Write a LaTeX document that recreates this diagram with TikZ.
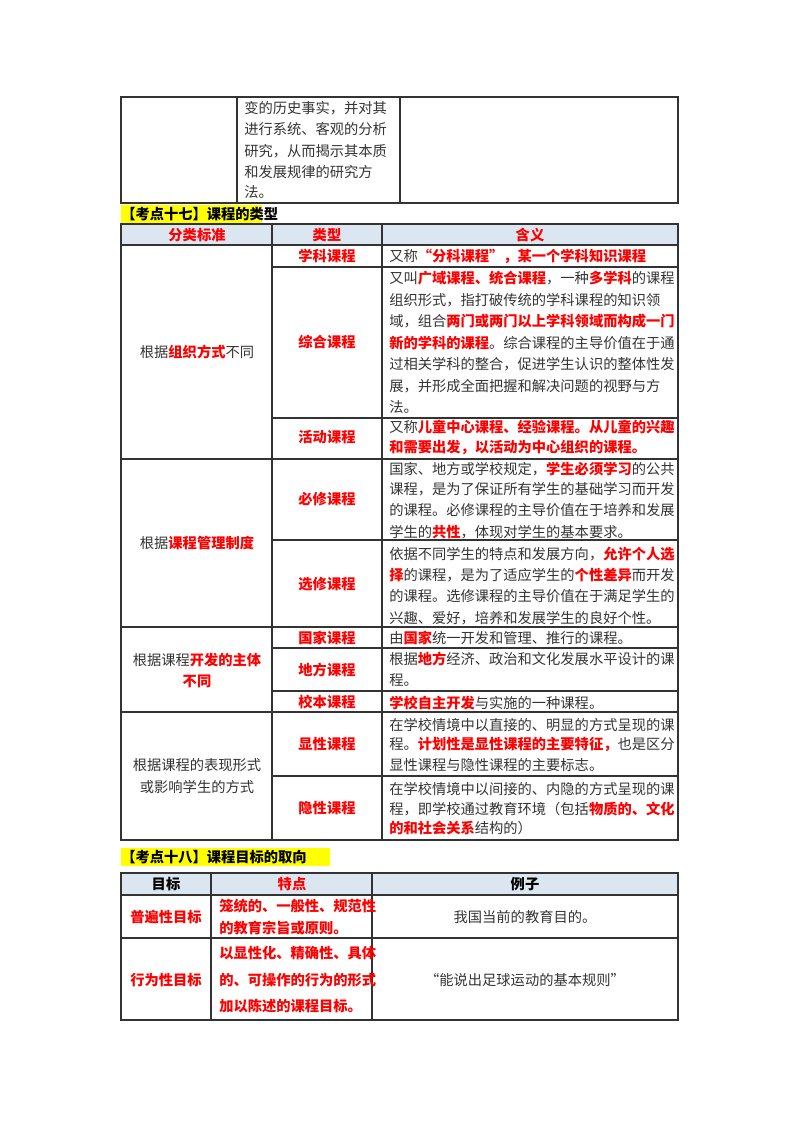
\documentclass[tikz,border=0pt]{standalone}
\usepackage{fontspec}
\setmainfont{Noto Sans CJK SC}
\definecolor{rd}{HTML}{FF0000}
\definecolor{tx}{HTML}{333333}
\definecolor{hd}{HTML}{DCE6F1}
\definecolor{hl}{HTML}{FFFF00}
\newcommand{\Rd}[1]{{\bfseries\color{rd}#1}}
\begin{document}
\begin{tikzpicture}[x=0.75pt,y=-0.75pt,
  every node/.style={font=\fontsize{10.7pt}{13pt}\selectfont,text=tx,inner sep=0pt},
  ln/.style={anchor=west},
  ctr/.style={anchor=center},
  red/.style={font=\fontsize{10.7pt}{13pt}\selectfont\bfseries,text=rd},
  grid/.style={draw=black!80,line width=0.8pt},
  head/.style={font=\fontsize{10.7pt}{13pt}\selectfont\bfseries,text=black}]
\useasboundingbox (0,0) rectangle (800,1132);
% ---- table 0
\draw[grid] (121,97) rectangle (678,203);
\draw[grid] (237,97) -- (237,203) (400,97) -- (400,203);
\node[ln] (a1) at (244,108) {变的历史事实，并对其};
\node[ln] (a2) at (244,129) {进行系统、客观的分析};
\node[ln] (a3) at (244,151) {研究，从而揭示其本质};
\node[ln] (a4) at (244,172) {和发展规律的研究方};
\node[ln] (a5) at (244,192) {法。};
% ---- heading 1
\fill[hl] (121,205) rectangle (262,223);
\node[head,ln] (h1) at (121,214) {【考点十七】课程的类型};
% ---- table 1
\fill[hd] (121,224) rectangle (678,245);
\draw[grid] (121,224) rectangle (678,840);
\draw[grid] (121,245) -- (678,245);
\draw[grid] (272,224) -- (272,840) (382,224) -- (382,840);
\foreach \y in {459,627,712}{\draw[grid] (121,\y) -- (678,\y);}
\foreach \y in {267,418,540,648,691,776}{\draw[grid] (272,\y) -- (678,\y);}
\node[red] (c1) at (197,235) {分类标准};
\node[red] (c2) at (327,235) {类型};
\node[red] (c3) at (530,235) {含义};
\node (g1) at (197,352) {根据\Rd{组织方式}不同};
\node (g2) at (197,543) {根据\Rd{课程管理制度}};
\node (g3a) at (197,660) {根据课程\Rd{开发的主体}};
\node[red] (g3b) at (197,681) {不同};
\node (g4a) at (197,765) {根据课程的表现形式};
\node (g4b) at (197,787) {或影响学生的方式};
\node[red] (t1) at (327,256) {学科课程};
\node[red] (t2) at (327,342) {综合课程};
\node[red] (t3) at (327,437) {活动课程};
\node[red] (t4) at (327,499) {必修课程};
\node[red] (t5) at (327,584) {选修课程};
\node[red] (t6) at (327,638) {国家课程};
\node[red] (t7) at (327,670) {地方课程};
\node[red] (t8) at (327,702) {校本课程};
\node[red] (t9) at (327,744) {显性课程};
\node[red] (t10) at (327,808) {隐性课程};
\node[ln] (d1) at (389,256) {又称\Rd{“分科课程”，某一个学科知识课程}};
\node[ln] (d2a) at (389,278) {又叫\Rd{广域课程、统合课程}，一种\Rd{多学科}的课程};
\node[ln] (d2b) at (389,300) {组织形式，指打破传统的学科课程的知识领};
\node[ln] (d2c) at (389,321) {域，组合\Rd{两门或两门以上学科领域而构成一门}};
\node[ln] (d2d) at (389,343) {\Rd{新的学科的课程}。综合课程的主导价值在于通};
\node[ln] (d2e) at (389,364) {过相关学科的整合，促进学生认识的整体性发};
\node[ln] (d2f) at (389,386) {展，并形成全面把握和解决问题的视野与方};
\node[ln] (d2g) at (389,407) {法。};
\node[ln] (d3a) at (389,427) {又称\Rd{儿童中心课程、经验课程。从儿童的兴趣}};
\node[ln] (d3b) at (389,447) {\Rd{和需要出发，以活动为中心组织的课程。}};
\node[ln] (d4a) at (389,469) {国家、地方或学校规定，\Rd{学生必须学习}的公共};
\node[ln] (d4b) at (389,489) {课程，是为了保证所有学生的基础学习而开发};
\node[ln] (d4c) at (389,510) {的课程。必修课程的主导价值在于培养和发展};
\node[ln] (d4d) at (389,532) {学生的\Rd{共性}，体现对学生的基本要求。};
\node[ln] (d5a) at (389,554) {依据不同学生的特点和发展方向，\Rd{允许个人选}};
\node[ln] (d5b) at (389,575) {\Rd{择}的课程，是为了适应学生的\Rd{个性差异}而开发};
\node[ln] (d5c) at (389,596) {的课程。选修课程的主导价值在于满足学生的};
\node[ln] (d5d) at (389,618) {兴趣、爱好，培养和发展学生的良好个性。};
\node[ln] (d6) at (389,638) {由\Rd{国家}统一开发和管理、推行的课程。};
\node[ln] (d7a) at (389,659) {根据\Rd{地方}经济、政治和文化发展水平设计的课};
\node[ln] (d7b) at (389,680) {程。};
\node[ln] (d8) at (389,703) {\Rd{学校自主开发}与实施的一种课程。};
\node[ln] (d9a) at (389,725) {在学校情境中以直接的、明显的方式呈现的课};
\node[ln] (d9b) at (389,744) {程。\Rd{计划性是显性课程的主要特征，}也是区分};
\node[ln] (d9c) at (389,765) {显性课程与隐性课程的主要标志。};
\node[ln] (d10a) at (389,789) {在学校情境中以间接的、内隐的方式呈现的课};
\node[ln] (d10b) at (389,809) {程，即学校通过教育环境（包括\Rd{物质的、文化}};
\node[ln] (d10c) at (389,828) {\Rd{的和社会关系}结构的）};
% ---- heading 2
\fill[hl] (121,848) rectangle (330,866);
\node[head,ln] (h2) at (121,857) {【考点十八】课程目标的取向};
% ---- table 2
\fill[hd] (121,873) rectangle (678,895);
\draw[grid] (121,873) rectangle (678,1020);
\draw[grid] (121,895) -- (678,895) (121,938) -- (678,938);
\draw[grid] (211,873) -- (211,1020) (372,873) -- (372,1020);
\node[head] (e1) at (166,884) {目标};
\node[red] (e2) at (292,884) {特点};
\node[head] (e3) at (525,884) {例子};
\node[red] (f1) at (166,917) {普遍性目标};
\node[red,ln] (f2a) at (219,906) {笼统的、一般性、规范性};
\node[red,ln] (f2b) at (219,928) {的教育宗旨或原则。};
\node (f3) at (525,917) {我国当前的教育目的。};
\node[red] (k1) at (166,980) {行为性目标};
\node[red,ln] (k2a) at (219,953) {以显性化、精确性、具体};
\node[red,ln] (k2b) at (219,980) {的、可操作的行为的形式};
\node[red,ln] (k2c) at (219,1006) {加以陈述的课程目标。};
\node (k3) at (525,980) {“能说出足球运动的基本规则”};
\end{tikzpicture}
\end{document}
